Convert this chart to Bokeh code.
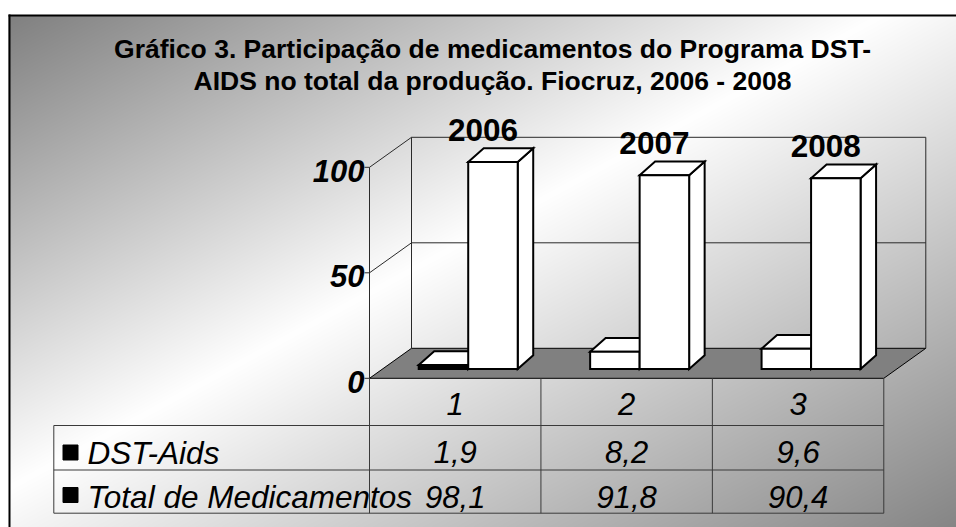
import numpy as np
from bokeh.plotting import figure
from bokeh.models import Range1d
from bokeh.core.properties import value
from bokeh.embed import file_html
from bokeh.resources import INLINE

# ---------------- data ----------------
categories = ["1", "2", "3"]
years = ["2006", "2007", "2008"]
series_names = ["DST-Aids", "Total de Medicamentos"]
dst_aids = [1.9, 8.2, 9.6]
total_med = [98.1, 91.8, 90.4]
y_ticks = [0, 50, 100]
title_lines = ["Gráfico 3. Participação de medicamentos do Programa DST-",
               "AIDS no total da produção. Fiocruz, 2006 - 2008"]

# ---------------- layout (page pixels) ----------------
FIG_W, FIG_H = 956, 527
M = 0
X0, Y0 = 369.0, 377.8          # floor front-left corner on page
CAT_PX, VAL_PX = 171.43, 2.11   # pixels per category / per value unit
FONT = value("Liberation Sans")


def X(px):
    return (px - X0) / CAT_PX


def Y(py):
    return (Y0 - py) / VAL_PX


def dx(px):
    return px / CAT_PX


def dy(py):
    return py / VAL_PX


x_range = Range1d(X(M), X(M + FIG_W))
y_range = Range1d(Y(M + FIG_H), Y(M))

p = figure(width=FIG_W, height=FIG_H, x_range=x_range, y_range=y_range,
           output_backend="svg", toolbar_location=None,
           x_axis_type=None, y_axis_type=None, min_border=0)
p.outline_line_color = None
p.background_fill_color = "white"
p.border_fill_color = "white"

# ---------------- gradient background ----------------
rows = np.arange(FIG_H)
cols = np.arange(FIG_W)
py = M + (FIG_H - 1 - rows)[:, None] + 0.5
px = M + cols[None, :] + 0.5
u = (px - 8) / 970.0
v = (py - 15) / 525.0
t = np.clip((u + v) / 2.0, 0, 1)
tp = 0.45
s = np.where(t < tp, t / tp, (1 - t) / (1 - tp))
g = 128 + 127 * s
g = np.clip(g, 0, 255)
g = np.where((py < 15) | (px < 8), 255, g)
g = np.broadcast_to(g, (FIG_H, FIG_W)).astype(np.uint8)
img = np.empty((FIG_H, FIG_W), dtype=np.uint32)
view = img.view(dtype=np.uint8).reshape((FIG_H, FIG_W, 4))
view[:, :, 0] = g
view[:, :, 1] = g
view[:, :, 2] = g
view[:, :, 3] = 255
p.image_rgba(image=[img], x=x_range.start, y=y_range.start,
             dw=x_range.end - x_range.start, dh=y_range.end - y_range.start)

# outer chart border (left and top)
p.line([X(9), X(9)], [Y(14), Y(M + FIG_H)], line_color="black", line_width=2)
p.line([X(8), X(M + FIG_W)], [Y(15), Y(15)], line_color="black", line_width=2)

# ---------------- title ----------------
for i, line in enumerate(title_lines):
    p.text(x=[X(492)], y=[Y(48 + 32.7 * i)], text=[line], text_font=FONT,
           text_font_size="26.5px", text_font_style="bold", text_align="center",
           text_baseline="middle", text_color="black")

# ---------------- 3D scaffold ----------------
n = len(categories)
ymax = max(y_ticks)
Dx, Dy = dx(42), dy(30)   # floor depth

# floor
p.patch([0, n, n + Dx, Dx], [0, 0, Dy, Dy], fill_color="#808080",
        line_color="black", line_width=1)

wall_xs, wall_ys = [], []
for tv in y_ticks:
    if tv > 0:
        wall_xs.append([Dx, n + Dx]); wall_ys.append([Dy + tv, Dy + tv])
        wall_xs.append([0, Dx]); wall_ys.append([tv, Dy + tv])
wall_xs += [[Dx, Dx], [n + Dx, n + Dx], [0, 0]]
wall_ys += [[Dy, Dy + ymax], [Dy, Dy + ymax], [0, ymax]]
p.multi_line(wall_xs, wall_ys, line_color="#2a2a2a", line_width=1)

# ticks
tick_len = dx(5)
p.multi_line([[-tick_len, 0] for _ in y_ticks], [[tv, tv] for tv in y_ticks],
             line_color="#2a2a2a", line_width=1)
p.text(x=[-dx(5)] * len(y_ticks), y=[tv - dy(3.5) for tv in y_ticks],
       text=[str(tv) for tv in y_ticks], text_font=FONT, text_font_size="31px",
       text_font_style="bold italic", text_align="right", text_baseline="middle",
       text_color="black")

# ---------------- bars ----------------
Fx, Fy = dx(13), dy(9.3)        # bar front plane
Bx, By = dx(15.5), dy(13.7)     # bar depth
bw = dx(49.5)

bxs, bys, bfill = [], [], []
lab_x, lab_y = [], []
for i in range(n):
    mid = i + 0.5 + Fx
    for x0, val in ((mid - bw, dst_aids[i]), (mid, total_med[i])):
        x1 = x0 + bw
        b, tp_ = Fy, Fy + val
        # side, top, front
        bxs.append([x1, x1 + Bx, x1 + Bx, x1]); bys.append([b, b + By, tp_ + By, tp_])
        bxs.append([x0, x1, x1 + Bx, x0 + Bx]); bys.append([tp_, tp_, tp_ + By, tp_ + By])
        bxs.append([x0, x1, x1, x0]); bys.append([b, b, tp_, tp_])
        front = "black" if val * VAL_PX < 6 else "white"
        bfill += ["white", "white", front]
    lab_x.append(mid + bw / 2 - dx(10))
    lab_y.append(Fy + total_med[i] + By + dy(18.5))

p.patches(bxs, bys, fill_color=bfill, line_color="black", line_width=2,
          line_join="miter")

p.text(x=lab_x, y=lab_y, text=years, text_font=FONT, text_font_size="31.5px",
       text_font_style="bold", text_align="center", text_baseline="middle",
       text_color="black")

# ---------------- data table ----------------
row_lines = [Y(425), Y(469.5), Y(512.7)]
tleft = X(53.3)
tl_xs, tl_ys = [], []
for ry in row_lines:
    tl_xs.append([tleft, n]); tl_ys.append([ry, ry])
for c in range(n + 1):
    tl_xs.append([c, c]); tl_ys.append([0, row_lines[-1]])
tl_xs.append([tleft, tleft]); tl_ys.append([row_lines[0], row_lines[-1]])
p.multi_line(tl_xs, tl_ys, line_color="#3a3a3a", line_width=1)

centers = [i + 0.5 for i in range(n)]
fmt = lambda vv: f"{vv:.1f}".replace(".", ",")
p.text(x=centers, y=[Y(403.5)] * n, text=categories, text_font=FONT,
       text_font_size="31px", text_font_style="italic", text_align="center",
       text_baseline="middle", text_color="black")
p.text(x=centers, y=[Y(451.5)] * n, text=[fmt(vv) for vv in dst_aids],
       text_font=FONT, text_font_size="31px", text_font_style="italic",
       text_align="center", text_baseline="middle", text_color="black")
p.text(x=centers, y=[Y(496)] * n, text=[fmt(vv) for vv in total_med],
       text_font=FONT, text_font_size="31px", text_font_style="italic",
       text_align="center", text_baseline="middle", text_color="black")

# legend keys + series names
p.scatter(x=[X(70), X(70)], y=[Y(452), Y(494.5)], marker="square", size=15,
          fill_color="black", line_color="black")
p.text(x=[X(87), X(87)], y=[Y(452.5), Y(496.5)], text=series_names, text_font=FONT,
       text_font_size="31.5px", text_font_style="italic", text_align="left",
       text_baseline="middle", text_color="black")

open("out.html", "w").write(file_html(p, INLINE))
